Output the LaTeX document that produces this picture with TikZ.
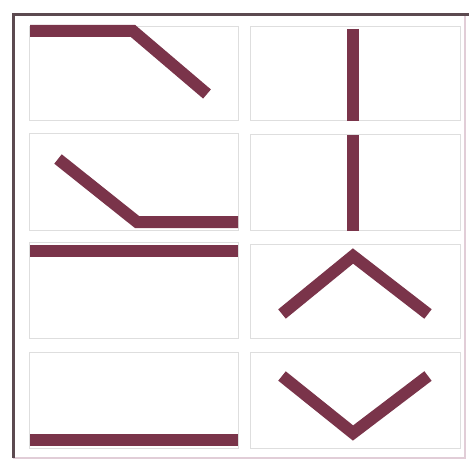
\documentclass[tikz,border=0pt]{standalone}
\begin{document}
\begin{tikzpicture}[x=1pt,y=-1pt,
  bar/.style={draw=barc,line width=12pt,line cap=butt,line join=miter},
  cell/.style={draw=cellc,line width=0.8pt},
  framedark/.style={draw=framec,line width=3pt},
  framelight/.style={draw=framel,line width=1.2pt}]
\definecolor{barc}{RGB}{122,52,74}
\definecolor{cellc}{RGB}{222,222,222}
\definecolor{framec}{RGB}{92,74,80}
\definecolor{framel}{RGB}{225,205,215}
\useasboundingbox[fill=white] (0,0) rectangle (469,460);
% outer frame
\coordinate (TL) at (13,15);
\coordinate (TR) at (469,15);
\coordinate (BL) at (13,458);
\coordinate (BR) at (465,458);
\draw[framelight] (465,15) -- (BR) -- (BL);
\draw[framedark] (BL) -- (TL) -- (TR);
% cells
\draw[cell] (29,26) rectangle (238,120);
\draw[cell] (29,133) rectangle (238,230);
\draw[cell] (29,242) rectangle (238,338);
\draw[cell] (29,352) rectangle (238,448);
\draw[cell] (250,26) rectangle (460,120);
\draw[cell] (250,134) rectangle (460,230);
\draw[cell] (250,244) rectangle (460,338);
\draw[cell] (250,352) rectangle (460,448);
% bars
\coordinate (a1) at (30,31);
\coordinate (a2) at (133,31);
\coordinate (a3) at (207,94);
\draw[bar] (a1) -- (a2) -- (a3);
\coordinate (b1) at (58,159);
\coordinate (b2) at (137,222);
\coordinate (b3) at (238,222);
\draw[bar] (b1) -- (b2) -- (b3);
\coordinate (c1) at (30,251);
\coordinate (c2) at (238,251);
\draw[bar] (c1) -- (c2);
\coordinate (d1) at (30,440);
\coordinate (d2) at (238,440);
\draw[bar] (d1) -- (d2);
\coordinate (e1) at (353,29);
\coordinate (e2) at (353,121);
\draw[bar] (e1) -- (e2);
\coordinate (f1) at (353,135);
\coordinate (f2) at (353,231);
\draw[bar] (f1) -- (f2);
\coordinate (g1) at (282,314);
\coordinate (g2) at (353,256);
\coordinate (g3) at (428,314);
\draw[bar] (g1) -- (g2) -- (g3);
\coordinate (h1) at (282,376);
\coordinate (h2) at (353,433);
\coordinate (h3) at (428,376);
\draw[bar] (h1) -- (h2) -- (h3);
\end{tikzpicture}
\end{document}
